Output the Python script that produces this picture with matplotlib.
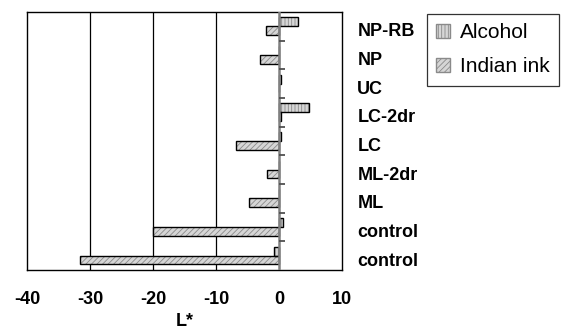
import matplotlib.pyplot as plt
import matplotlib.patches as mpatches
import numpy as np

# dati (dall'alto verso il basso)
categories = ['NP-RB', 'NP', 'UC', 'LC-2dr', 'LC', 'ML-2dr', 'ML', 'control', 'control']
alcohol = [3.0, 0.0, 0.3, 4.8, 0.4, 0.0, 0.0, 0.7, -0.8]
indian_ink = [-2.1, -3.0, 0.0, 0.3, -6.8, -1.9, -4.7, -20.0, -31.6]
x_ticks = [-40, -30, -20, -10, 0, 10]

plt.rcParams['font.family'] = ['Liberation Sans', 'DejaVu Sans']
plt.rcParams['hatch.linewidth'] = 0.6

fig, ax = plt.subplots(figsize=(5.62, 3.32), dpi=100)
fig.subplots_adjust(left=0.048, right=0.6085, top=0.964, bottom=0.187)

# categorie dal basso verso l'alto
cats = categories[::-1]
alc = alcohol[::-1]
ink = indian_ink[::-1]
y = np.arange(len(cats))
h = 0.31

face = '#d6d6d6'
hatch_col = '#8a8a8a'

# riempimento tratteggiato e poi il bordo nero
ax.barh(y + h / 2, alc, height=h, color=face, edgecolor=hatch_col, hatch='|||||', linewidth=0, zorder=3)
ax.barh(y - h / 2, ink, height=h, color=face, edgecolor=hatch_col, hatch='//////', linewidth=0, zorder=3)
ax.barh(y + h / 2, alc, height=h, fill=False, edgecolor='black', linewidth=1, zorder=4)
ax.barh(y - h / 2, ink, height=h, fill=False, edgecolor='black', linewidth=1, zorder=4)

ax.set_xlim(-40, 10)
ax.set_ylim(-0.5, len(cats) - 0.5)

# griglia verticale e asse dello zero
for xv in x_ticks[1:-2]:
    ax.axvline(xv, color='black', linewidth=0.9, zorder=1)
ax.axvline(0, color='#808080', linewidth=1.8, zorder=5)

# piccoli tick di categoria a destra dello zero
bounds = np.arange(len(cats) - 1) + 0.5
ax.hlines(bounds, 0, 0.9, color='#505050', linewidth=1.3, zorder=5)

ax.set_xticks(x_ticks)
ax.set_xticklabels([str(v) for v in x_ticks], fontsize=13, fontweight='bold')
ax.tick_params(axis='x', length=0, pad=15)

ax.yaxis.tick_right()
ax.set_yticks(y - 0.12)
ax.set_yticklabels(cats, fontsize=13, fontweight='bold')
ax.tick_params(axis='y', length=0, pad=11)

ax.set_xlabel('L*', fontsize=13, fontweight='bold', labelpad=4)

for sp in ax.spines.values():
    sp.set_linewidth(1.0)
    sp.set_color('black')

handles = [
    mpatches.Patch(facecolor=face, edgecolor=hatch_col, hatch='|||||', label='Alcohol'),
    mpatches.Patch(facecolor=face, edgecolor=hatch_col, hatch='//////', label='Indian ink'),
]
leg = fig.legend(handles=handles, loc='upper left', bbox_to_anchor=(427 / 562, 1 - 14 / 332),
                 fontsize=15, frameon=True, fancybox=False, borderaxespad=0,
                 handlelength=0.67, handleheight=0.67, handletextpad=0.45,
                 labelspacing=0.72, borderpad=0.45)
leg.get_frame().set_edgecolor('black')
leg.get_frame().set_linewidth(0.9)

plt.savefig('out.png', dpi=100)
